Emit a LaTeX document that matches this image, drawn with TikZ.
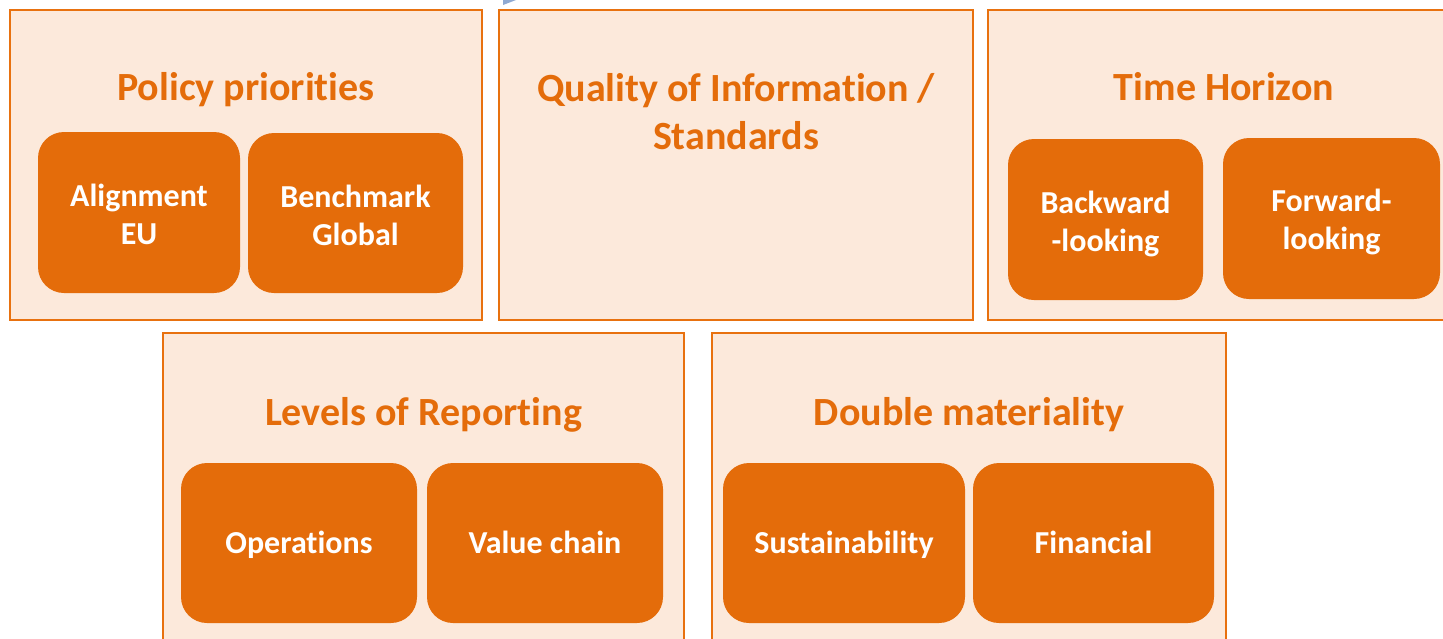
\documentclass[tikz,border=0pt]{standalone}
\usepackage{fontspec}
\setmainfont{Carlito}[Ligatures={NoCommon}]
\definecolor{framefill}{HTML}{FCE9DB}
\definecolor{orangeline}{HTML}{E8710F}
\definecolor{orangebox}{HTML}{E46C0A}
\definecolor{blueish}{HTML}{8FA9D2}
\tikzset{
  frame/.style={draw=orangeline, line width=2pt, fill=framefill},
  title/.style={text=orangebox, font=\bfseries\fontsize{40}{48}\selectfont, inner sep=0pt, align=center},
  itembox/.style={fill=orangebox, draw=none, rounded corners=26pt, inner sep=0pt},
  itemtext/.style={text=white, font=\bfseries\fontsize{32}{38}\selectfont, align=center, inner sep=0pt},
}
\begin{document}
\begin{tikzpicture}[x=1pt,y=-1pt]
\useasboundingbox (0,0) rectangle (1443,638);
\fill[white] (0,0) rectangle (1443,638);
% small blue fragment at top
\fill[blueish] (503,0) -- (516,0) -- (503,5) -- cycle;

% frames
\draw[frame] (10,10) rectangle (482,320);
\node[inner sep=0pt, minimum width=472pt, minimum height=310pt] (frame1) at (246,165) {};
\draw[frame] (499,10) rectangle (973,320);
\node[inner sep=0pt, minimum width=474pt, minimum height=310pt] (frame2) at (736,165) {};
\draw[frame] (988,10) rectangle (1460,320);
\node[inner sep=0pt, minimum width=472pt, minimum height=310pt] (frame3) at (1224,165) {};
\draw[frame] (163,333) rectangle (684,660);
\node[inner sep=0pt, minimum width=521pt, minimum height=327pt] (frame4) at (423.5,496.5) {};
\draw[frame] (712,333) rectangle (1226,660);
\node[inner sep=0pt, minimum width=514pt, minimum height=327pt] (frame5) at (969,496.5) {};

% titles
\node[title, anchor=base] (t1) at (246,100) {Policy priorities};
\node[title, anchor=center] (t2) at (736,112) {Quality of Information /\\Standards};
\node[title, anchor=base] (t3) at (1224,100) {Time Horizon};
\node[title, anchor=base] (t4) at (423.5,425) {Levels of Reporting};
\node[title, anchor=base] (t5) at (969,425) {Double materiality};

% item boxes
\node[itembox, minimum width=202pt, minimum height=161pt] (align) at (139,212.5) {};
\node[itembox, minimum width=215pt, minimum height=160pt] (bench) at (355.5,213) {};
\node[itembox, minimum width=195pt, minimum height=161pt] (back) at (1105.5,219.5) {};
\node[itembox, minimum width=217pt, minimum height=161pt] (fwd) at (1331.5,218.5) {};
\node[itembox, minimum width=236pt, minimum height=160pt] (ops) at (299,543) {};
\node[itembox, minimum width=236pt, minimum height=160pt] (vc) at (545,543) {};
\node[itembox, minimum width=242pt, minimum height=160pt] (sus) at (844,543) {};
\node[itembox, minimum width=241pt, minimum height=160pt] (fin) at (1093.5,543) {};

% item texts
\node[itemtext] (alignT) at ([yshift=-2pt]align.center) {Alignment\\EU};
\node[itemtext] (benchT) at ([yshift=-2pt]bench.center) {Benchmark\\Global};
\node[itemtext] (backT) at ([yshift=-4.5pt]back.center) {Backward\\-looking};
\node[itemtext] (fwdT) at ([yshift=-3.5pt]fwd.center) {Forward-\\looking};
\node[itemtext, anchor=base] (opsT) at (299,553) {Operations};
\node[itemtext, anchor=base] (vcT) at (545,553) {Value chain};
\node[itemtext, anchor=base] (susT) at (844,553) {Sustainability};
\node[itemtext, anchor=base] (finT) at (1093.5,553) {Financial};
\end{tikzpicture}
\end{document}
